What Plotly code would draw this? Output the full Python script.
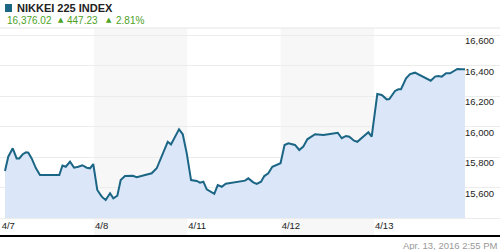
import plotly.graph_objects as go

# ---- data (x in trading-day units: 0 = 4/7 open, 1 = 4/8 open, ...) ----
day_labels = ["4/7", "4/8", "4/11", "4/12", "4/13"]
day_pos = [0, 1, 2, 3, 4]
shaded_days = [1, 3]

x_pos = [
    0.046, 0.081, 0.129, 0.171, 0.199, 0.236, 0.271, 0.296, 0.332, 0.378, 0.421, 0.628,
    0.662, 0.697, 0.743, 0.786, 0.832, 0.875, 0.922, 0.957, 0.992,
    1.035, 1.083, 1.125, 1.172, 1.207, 1.250, 1.286, 1.332, 1.368, 1.415, 1.458, 1.528,
    1.618, 1.672, 1.743, 1.790, 1.825, 1.868, 1.911, 1.951, 1.994,
    2.040, 2.101, 2.136, 2.172, 2.208, 2.254, 2.289, 2.326, 2.369, 2.412, 2.476, 2.547,
    2.618, 2.654, 2.707, 2.744, 2.790, 2.825, 2.868, 2.911, 2.969, 2.999,
    3.042, 3.083, 3.154, 3.200, 3.243, 3.286, 3.369, 3.458, 3.530, 3.612, 3.655, 3.701,
    3.736, 3.787, 3.822, 3.869, 3.940, 3.976,
    4.036, 4.084, 4.137, 4.165, 4.226, 4.262, 4.290, 4.344, 4.387, 4.440, 4.529, 4.609,
    4.655, 4.690, 4.727, 4.773, 4.816, 4.894, 4.941, 4.976,
]
index_values = [
    15708, 15802, 15857, 15791, 15791, 15818, 15831, 15828, 15791, 15726, 15682, 15682,
    15744, 15736, 15769, 15730, 15736, 15746, 15730, 15726, 15754,
    15584, 15540, 15518, 15562, 15529, 15546, 15649, 15675, 15675, 15677, 15667, 15677,
    15693, 15726, 15824, 15900, 15883, 15929, 15982, 15949, 15824,
    15649, 15643, 15632, 15638, 15588, 15569, 15559, 15616, 15605, 15625, 15630, 15638,
    15645, 15660, 15634, 15623, 15638, 15675, 15693, 15736, 15748, 15759,
    15879, 15890, 15879, 15846, 15868, 15916, 15949, 15944, 15951, 15959, 15923, 15938,
    15933, 15907, 15900, 15927, 15962, 15933,
    16213, 16207, 16178, 16180, 16233, 16244, 16244, 16316, 16344, 16353, 16327, 16300,
    16327, 16331, 16327, 16349, 16349, 16377, 16375, 16376.02,
]
baseline_value = 15400
y_ticks = [15400, 15600, 15800, 16000, 16200, 16400, 16600]
y_tick_text = ["", "15,600", "15,800", "16,000", "16,200", "16,400", "16,600"]

title_text = "NIKKEI 225 INDEX"
last_text = "16,376.02"
change_text = "447.23"
pct_text = "2.81%"
stamp_text = "Apr. 13, 2016 2:55 PM"

LINE = "#1b6585"
FILL = "#dbe7f8"
GREEN = "#4ea21f"

fig = go.Figure()
fig.add_trace(go.Scatter(x=x_pos, y=[baseline_value] * len(x_pos), mode="lines",
                         line=dict(width=0), hoverinfo="skip", showlegend=False))
fig.add_trace(go.Scatter(x=x_pos, y=index_values, mode="lines", fill="tonexty",
                         fillcolor=FILL, line=dict(color=LINE, width=2),
                         showlegend=False))

for d in shaded_days:
    fig.add_shape(type="rect", xref="x", yref="paper", x0=d, x1=d + 1, y0=0, y1=1,
                  fillcolor="#f7f7f7", line=dict(width=0), layer="below")

# top border line
fig.add_shape(type="line", xref="paper", yref="paper", x0=0, x1=1, y0=1, y1=1,
              line=dict(color="#e6e6e6", width=1))

H_PLOT = 207.0
def py(p):
    return (235 - p) / H_PLOT

# header square icon
fig.add_shape(type="rect", xref="paper", yref="paper", x0=5 / 500, x1=12 / 500,
              y0=py(12), y1=py(4), fillcolor=LINE, line=dict(width=0))

ann = []
ann.append(dict(text="<b>" + title_text + "</b>", x=15 / 500, y=py(8), xanchor="left",
                yanchor="middle", font=dict(family="Liberation Sans, Arial", size=11, color="#222")))
hdr_font = dict(family="Liberation Sans, Arial", size=10, color=GREEN)
ann.append(dict(text=last_text, x=5 / 500, y=py(20.5), xanchor="left", yanchor="middle", font=hdr_font))
ann.append(dict(text="▲", x=56 / 500, y=py(20), xanchor="left", yanchor="middle",
                font=dict(family="DejaVu Sans", size=7, color=GREEN)))
ann.append(dict(text=change_text, x=65 / 500, y=py(20.5), xanchor="left", yanchor="middle", font=hdr_font))
ann.append(dict(text="▲", x=104 / 500, y=py(20), xanchor="left", yanchor="middle",
                font=dict(family="DejaVu Sans", size=7, color=GREEN)))
ann.append(dict(text=pct_text, x=114 / 500, y=py(20.5), xanchor="left", yanchor="middle", font=hdr_font))
ann.append(dict(text=stamp_text, x=1, y=py(245), xanchor="right", yanchor="middle",
                font=dict(family="Liberation Sans, Arial", size=9.5, color="#999")))
for a in ann:
    a.update(xref="paper", yref="paper", showarrow=False)

fig.update_layout(
    width=500, height=250,
    margin=dict(l=0, r=0, t=28, b=15),
    paper_bgcolor="white", plot_bgcolor="white",
    annotations=ann,
    xaxis=dict(range=[-0.0075, 5.351], tickvals=day_pos, ticktext=day_labels,
               ticklabelposition="inside right", showgrid=False, zeroline=False,
               showline=True, linecolor="#000", linewidth=2, ticks="",
               tickfont=dict(family="Liberation Sans, Arial", size=9.5, color="#222"),
               fixedrange=True),
    yaxis=dict(range=[15288.6, 16645.9], side="right", tickvals=y_ticks, ticktext=y_tick_text,
               ticklabelposition="inside", ticklabelshift=6, ticklabelstandoff=3,
               showgrid=True, gridcolor="#ececec", gridwidth=1, zeroline=False,
               showline=False, ticks="",
               tickfont=dict(family="Liberation Sans, Arial", size=9.5, color="#222"),
               fixedrange=True),
)

fig.write_html("out.html")
